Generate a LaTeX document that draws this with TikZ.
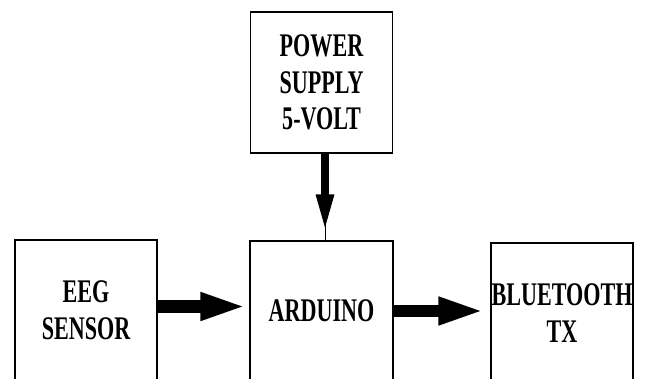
\documentclass[tikz,border=0pt]{standalone}
\usepackage{fontspec}
\usepackage{tikz}
\usetikzlibrary{arrows.meta}
\newfontfamily\blockfont{Liberation Serif}[FakeStretch=0.67]
\tikzset{
  block/.style={
    draw=black, line width=1.2pt,
    minimum width=142pt, minimum height=140pt,
    align=center, inner sep=0pt,
    font=\blockfont\bfseries\fontsize{33}{36.5}\selectfont
  },
  bus arrow/.style={
    line width=12.5pt,
    -{Triangle[length=47pt, width=25pt]}
  },
  supply arrow/.style={
    line width=8pt,
    -{Triangle[length=38pt, width=16pt]}
  },
  stub/.style={line width=1pt}
}
\begin{document}
\begin{tikzpicture}[x=1pt, y=1pt]
  \clip (0,0) rectangle (646,378);

  % Blocks
  \node[block, minimum height=141pt] (power) at (321.5, 295.5) {POWER\\SUPPLY\\5-VOLT};
  \node[block] (eeg) at (86, 68) {EEG\\SENSOR};
  \node[block, minimum width=143pt] (arduino) at (321.5, 67) {ARDUINO};
  \node[block] (bt) at (562, 65) {BLUETOOTH\\TX};

  % Power to arduino
  \draw[stub] ([xshift=3.5pt]power.south) -- ([xshift=3.5pt]power.south |- arduino.north);
  \draw[supply arrow, shorten >=8pt] ([xshift=3.5pt]power.south) -- ([xshift=3.5pt]power.south |- arduino.north);

  % Signal path
  \draw[bus arrow, shorten >=2pt] ([yshift=3.5pt]eeg.east) -- ([yshift=3.5pt]eeg.east -| arduino.west);
  \draw[bus arrow, shorten >=5pt] (arduino.east) -- (arduino.east -| bt.west);
\end{tikzpicture}
\end{document}
